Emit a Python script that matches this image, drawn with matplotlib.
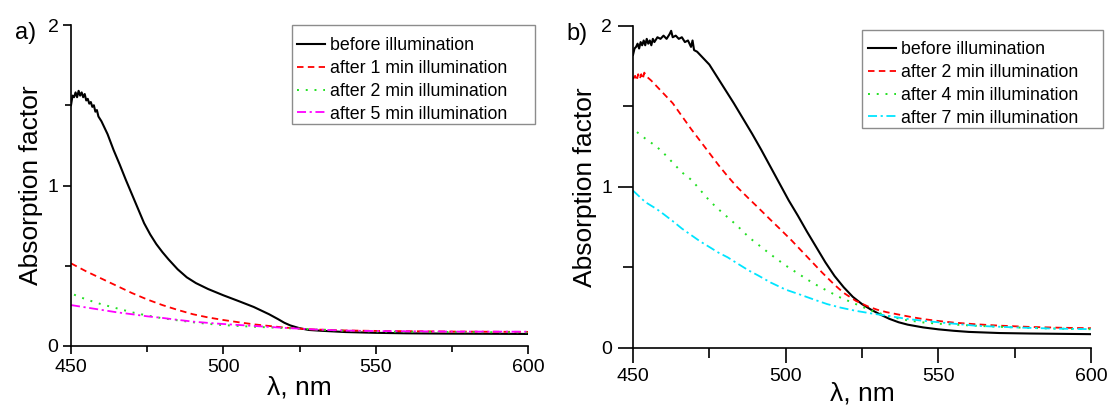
import matplotlib
matplotlib.use("Agg")
import matplotlib.pyplot as plt
from matplotlib.ticker import MultipleLocator
from matplotlib.patches import Rectangle

plt.rcParams['font.family'] = ['Liberation Sans', 'DejaVu Sans']

# ---------------- Panel a data ----------------
a_black_x = [450, 450.5, 451, 451.5, 452, 452.5, 453, 453.5, 454, 454.5, 455, 455.5, 456, 456.5,
             457, 457.5, 458, 458.5, 459, 460, 462, 464, 466, 468, 470, 472, 474, 476, 478, 480,
             482, 485, 488, 491, 495, 500, 505, 510, 515, 518, 520, 522, 525, 528, 532, 540, 550,
             560, 575, 590, 600]
a_black_y = [1.50, 1.56, 1.55, 1.58, 1.55, 1.59, 1.56, 1.58, 1.55, 1.57, 1.53, 1.54, 1.51, 1.52,
             1.49, 1.50, 1.46, 1.47, 1.43, 1.40, 1.32, 1.22, 1.13, 1.035, 0.945, 0.855, 0.765, 0.695,
             0.635, 0.585, 0.54, 0.478, 0.428, 0.392, 0.355, 0.316, 0.28, 0.243, 0.198, 0.167, 0.145,
             0.128, 0.111, 0.10, 0.095, 0.087, 0.082, 0.079, 0.077, 0.076, 0.075]

a_red_x = [450, 455, 460, 465, 470, 475, 480, 485, 490, 495, 500, 505, 510, 515, 520, 525, 530,
           540, 550, 575, 600]
a_red_y = [0.515, 0.465, 0.42, 0.375, 0.33, 0.29, 0.255, 0.225, 0.198, 0.178, 0.162, 0.148, 0.135,
           0.125, 0.115, 0.108, 0.103, 0.097, 0.094, 0.09, 0.088]

a_green_x = [451, 455, 460, 465, 470, 475, 480, 485, 490, 495, 500, 510, 520, 530, 540, 550, 575, 600]
a_green_y = [0.32, 0.29, 0.26, 0.235, 0.21, 0.19, 0.173, 0.16, 0.148, 0.138, 0.13, 0.12, 0.112,
             0.103, 0.095, 0.09, 0.087, 0.085]

a_mag_x = [450, 455, 460, 465, 470, 475, 480, 485, 490, 495, 500, 510, 520, 530, 540, 550, 575, 600]
a_mag_y = [0.255, 0.24, 0.225, 0.21, 0.198, 0.185, 0.175, 0.163, 0.152, 0.144, 0.137, 0.125, 0.113,
           0.103, 0.096, 0.093, 0.09, 0.089]

a_labels = ["before illumination", "after 1 min illumination",
            "after 2 min illumination", "after 5 min illumination"]

# ---------------- Panel b data ----------------
b_black_x = [450, 450.5, 451, 451.5, 452, 452.5, 453, 453.5, 454, 454.5, 455, 455.5, 456, 456.5,
             457, 458, 459, 460, 461, 462, 462.5, 463, 464, 465, 466, 467, 468, 469, 469.5, 470,
             471, 472, 473, 474, 475, 476, 477, 478, 480, 483, 486, 489, 492, 495, 498, 501, 504,
             507, 510, 513, 516, 519, 522, 525, 528, 531, 534, 537, 540, 545, 550, 555, 560, 570,
             580, 590, 600]
b_black_y = [1.82, 1.86, 1.87, 1.89, 1.86, 1.90, 1.88, 1.91, 1.88, 1.92, 1.89, 1.91, 1.88, 1.92,
             1.90, 1.93, 1.92, 1.94, 1.92, 1.95, 1.97, 1.93, 1.94, 1.92, 1.93, 1.90, 1.91, 1.87,
             1.91, 1.85, 1.84, 1.82, 1.80, 1.78, 1.76, 1.73, 1.70, 1.67, 1.61, 1.52, 1.425, 1.33,
             1.23, 1.125, 1.02, 0.915, 0.82, 0.72, 0.625, 0.53, 0.445, 0.375, 0.315, 0.27, 0.235,
             0.205, 0.178, 0.157, 0.142, 0.125, 0.113, 0.104, 0.097, 0.09, 0.087, 0.085, 0.083]

b_red_x = [450, 450.7, 451.2, 451.7, 452.2, 452.7, 453.2, 453.7, 454.2, 456, 458, 460, 463, 466,
           469, 472, 475, 478, 481, 484, 488, 491, 495, 498, 502, 505, 509, 512, 516, 519, 523,
           527, 530, 533, 537, 541, 545, 550, 555, 562, 570, 580, 590, 600]
b_red_y = [1.67, 1.69, 1.66, 1.70, 1.67, 1.70, 1.67, 1.71, 1.69, 1.66, 1.62, 1.58, 1.52, 1.44,
           1.36, 1.285, 1.21, 1.135, 1.065, 1.0, 0.925, 0.87, 0.795, 0.74, 0.665, 0.605, 0.525, 0.465,
           0.39, 0.34, 0.29, 0.255, 0.235, 0.22, 0.205, 0.19, 0.177, 0.165, 0.155, 0.145, 0.136,
           0.128, 0.123, 0.12]

b_green_x = [451.3, 454, 457.7, 460, 463.5, 466, 469.3, 472, 475.2, 478, 481, 484, 488, 491, 495,
             500, 504.3, 509, 513.6, 518, 523, 528, 533.4, 539, 545, 550, 562.5, 575, 587, 600]
b_green_y = [1.34, 1.30, 1.25, 1.21, 1.14, 1.09, 1.04, 0.98, 0.91, 0.86, 0.81, 0.76, 0.685, 0.64,
             0.58, 0.51, 0.457, 0.40, 0.353, 0.31, 0.27, 0.23, 0.197, 0.172, 0.156, 0.148, 0.135,
             0.125, 0.118, 0.114]

b_cyan_x = [450, 454, 457.7, 460, 463.5, 466, 469.3, 472, 475.2, 478, 481, 484, 488, 491, 495,
            500, 504.3, 509, 513.6, 518, 523, 528, 533.4, 539, 545, 550, 562.5, 575, 587, 600]
b_cyan_y = [0.976, 0.905, 0.862, 0.83, 0.779, 0.74, 0.696, 0.66, 0.623, 0.59, 0.561, 0.525, 0.478,
            0.448, 0.405, 0.36, 0.332, 0.30, 0.27, 0.248, 0.228, 0.212, 0.197, 0.18, 0.166, 0.157,
            0.135, 0.125, 0.118, 0.114]

b_labels = ["before illumination", "after 2 min illumination",
            "after 4 min illumination", "after 7 min illumination"]

x_ticks = [450, 500, 550, 600]
y_ticks = [0, 1, 2]

W, H = 1107, 409
fig = plt.figure(figsize=(W / 100, H / 100), dpi=100)

ax_a = fig.add_axes([71 / W, 1 - 346 / H, 457 / W, 321 / H])
ax_b = fig.add_axes([633 / W, 1 - 347.5 / H, 458 / W, 321.5 / H])

DASH = (0, (3.6, 2.4))
DOT = (0, (1, 3.5))
DASHDOT = (0, (5, 2, 1.2, 2))


def style(ax, major_len, minor_len, pad, xlpad):
    ax.set_xlim(450, 600)
    ax.set_ylim(0, 2)
    ax.set_xticks(x_ticks)
    ax.set_yticks(y_ticks)
    ax.xaxis.set_minor_locator(MultipleLocator(25))
    ax.yaxis.set_minor_locator(MultipleLocator(0.5))
    for s in ('top', 'right'):
        ax.spines[s].set_visible(False)
    for s in ('left', 'bottom'):
        ax.spines[s].set_linewidth(1.2)
    ax.tick_params(which='major', direction='out', length=major_len, width=1.2,
                   labelsize=14, pad=pad)
    ax.tick_params(which='minor', direction='out', length=minor_len, width=1.2)
    ax.set_xlabel("λ, nm", fontsize=19, labelpad=xlpad)
    ax.set_ylabel("Absorption factor", fontsize=19, labelpad=3)


# Panel a
ax_a.plot(a_black_x, a_black_y, color='black', lw=1.5, label=a_labels[0])
ax_a.plot(a_red_x, a_red_y, color='#ff0000', lw=1.3, linestyle=DASH, label=a_labels[1])
ax_a.plot(a_green_x, a_green_y, color='#22e022', lw=1.4, linestyle=DOT, label=a_labels[2])
ax_a.plot(a_mag_x, a_mag_y, color='#ff00ff', lw=1.3, linestyle=DASHDOT, label=a_labels[3])
style(ax_a, 6, 4, 3, 0)

# Panel b
ax_b.plot(b_black_x, b_black_y, color='black', lw=1.5, label=b_labels[0])
ax_b.plot(b_red_x, b_red_y, color='#ff0000', lw=1.3, linestyle=DASH, label=b_labels[1])
ax_b.plot(b_green_x, b_green_y, color='#22e022', lw=1.4, linestyle=DOT, label=b_labels[2])
ax_b.plot(b_cyan_x, b_cyan_y, color='#00e5ff', lw=1.3, linestyle=DASHDOT, label=b_labels[3])
style(ax_b, 11, 7, 4, -3)

leg_kw = dict(loc='upper left', fontsize=12.8, frameon=False,
              handlelength=1.55, handletextpad=0.3, labelspacing=0.33,
              borderpad=0, borderaxespad=0)
ax_a.legend(bbox_to_anchor=(297 / W, 1 - 37 / H), bbox_transform=fig.transFigure, **leg_kw)
ax_b.legend(bbox_to_anchor=(868 / W, 1 - 41 / H), bbox_transform=fig.transFigure, **leg_kw)

# legend frames
for (x0, y0, x1, y1) in [(292, 25, 535, 124), (862, 30, 1103, 128)]:
    fig.patches.append(Rectangle((x0 / W, 1 - y1 / H), (x1 - x0) / W, (y1 - y0) / H,
                                 transform=fig.transFigure, fill=False,
                                 edgecolor='#8c8c8c', linewidth=1.0, zorder=5))

fig.text(15 / W, 1 - 33 / H, "a)", fontsize=17, va='center', ha='left')
fig.text(566 / W, 1 - 34 / H, "b)", fontsize=17, va='center', ha='left')

fig.savefig("out.png", dpi=100)
